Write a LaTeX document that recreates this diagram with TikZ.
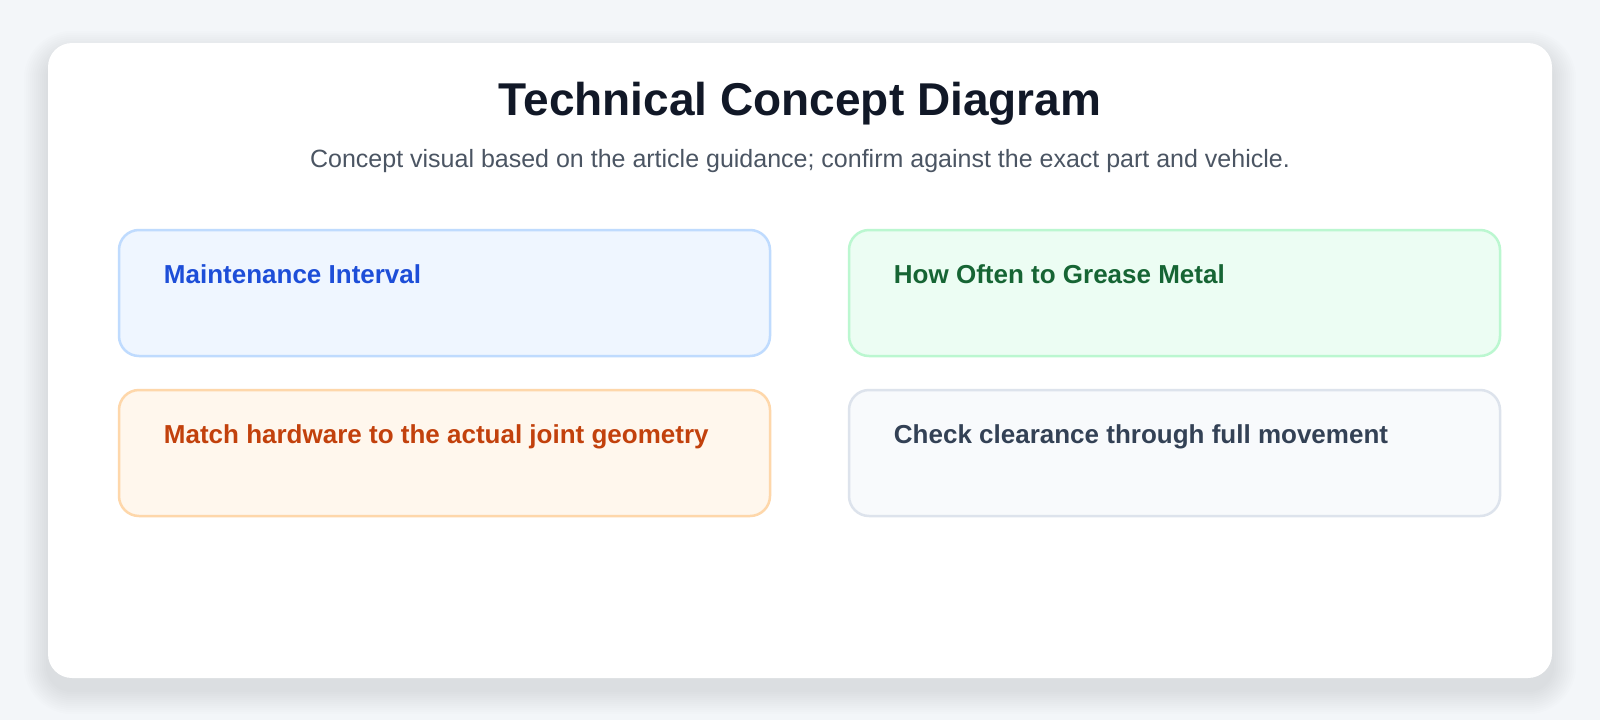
\documentclass[tikz,border=0pt]{standalone}
\usepackage{fontspec}
\setmainfont{Liberation Sans}
\definecolor{pagebg}{HTML}{F3F6F9}
\definecolor{shadowcol}{HTML}{4A5A6A}
\definecolor{titlecol}{HTML}{111827}
\definecolor{subcol}{HTML}{4B5563}
\definecolor{bluetext}{HTML}{1D4ED8}
\definecolor{bluefill}{HTML}{EFF6FF}
\definecolor{blueline}{HTML}{BFDBFE}
\definecolor{greentext}{HTML}{166534}
\definecolor{greenfill}{HTML}{ECFDF3}
\definecolor{greenline}{HTML}{BBF7D0}
\definecolor{orangetext}{HTML}{C2410C}
\definecolor{orangefill}{HTML}{FFF7ED}
\definecolor{orangeline}{HTML}{FED7AA}
\definecolor{slatetext}{HTML}{334155}
\definecolor{slatefill}{HTML}{F8FAFC}
\definecolor{slateline}{HTML}{DDE3EC}

\begin{document}
\begin{tikzpicture}
  [x=1pt,y=-1pt,
   card/.style={rounded corners=24pt,fill=white},
   panel/.style={rectangle,rounded corners=20pt,line width=2.5pt,
     minimum width=651pt,minimum height=126pt,inner sep=0pt},
   panellabel/.style={anchor=mid west,inner sep=0pt,
     font=\fontsize{26}{31}\selectfont\bfseries}]
  \fill[pagebg] (0,0) rectangle (1600,720);
  \useasboundingbox (0,0) rectangle (1600,720);
  \foreach \d in {2,4,...,24}
    \fill[shadowcol,opacity=.01,rounded corners=24pt+\d pt]
      (48-\d,43+12-\d) rectangle (1552+\d,678+12+\d);
  \fill[card] (48,43) rectangle (1552,678);
  \node (title) at (800,104)
    {\fontsize{46}{55}\selectfont\bfseries\color{titlecol}Technical Concept Diagram};
  \node (sub) at (800,161)
    {\fontsize{25}{30}\selectfont\color{subcol}Concept visual based on the article guidance; confirm against the exact part and vehicle.};
  \node[panel,fill=bluefill,draw=blueline] (interval) at (444.5,293) {};
  \node[panel,fill=greenfill,draw=greenline] (grease) at (1174.5,293) {};
  \node[panel,fill=orangefill,draw=orangeline] (hardware) at (444.5,453) {};
  \node[panel,fill=slatefill,draw=slateline] (clearance) at (1174.5,453) {};
  \foreach \n/\c/\t in {interval/bluetext/Maintenance Interval,
      grease/greentext/How Often to Grease Metal,
      hardware/orangetext/Match hardware to the actual joint geometry,
      clearance/slatetext/Check clearance through full movement}
    \node[panellabel,text=\c] (\n-label) at ([xshift=46pt,yshift=-52pt]\n.north west) {\t};
\end{tikzpicture}
\end{document}
